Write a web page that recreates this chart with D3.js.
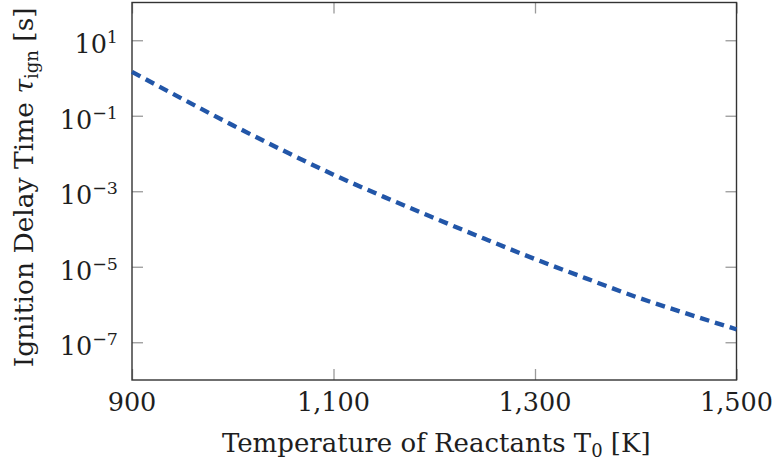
<!DOCTYPE html>
<html>
<head>
<meta charset="utf-8">
<script src="https://cdn.jsdelivr.net/npm/d3@7"></script>
<style>
  body { margin: 0; background: #fff; }
  text { font-family: "DejaVu Serif", serif; fill: #1e1e1e; }
</style>
</head>
<body>
<div id="plot"></div>
<script>
// temperature of reactants [K] and ignition delay time [s]
var temps = [900, 950, 1000, 1050, 1100, 1150, 1200, 1250, 1300, 1350, 1400, 1450, 1500];
var tauIgn = [1.45, 0.28, 0.056, 0.012, 2.75e-3, 7.1e-4, 1.95e-4, 5.5e-5, 1.6e-5, 5.0e-6, 1.6e-6, 5.8e-7, 2.2e-7];

var xTicks = [900, 1100, 1300, 1500];
var xTickLabels = ["900", "1,100", "1,300", "1,500"];
var yTicks = [1e1, 1e-1, 1e-3, 1e-5, 1e-7];
var yExponents = ["1", "\u22121", "\u22123", "\u22125", "\u22127"];

var W = 774, H = 467;
var margin = { top: 2.5, right: 37.5, bottom: 87, left: 132 };
var width = W - margin.left - margin.right,
    height = H - margin.top - margin.bottom;

var svg = d3.select("#plot").append("svg")
    .attr("width", W)
    .attr("height", H)
  .append("g")
    .attr("transform", "translate(" + margin.left + "," + margin.top + ")");

var x = d3.scaleLinear().domain([900, 1500]).range([0, width]);
var y = d3.scaleLog().domain([1e-8, 1e2]).range([height, 0]);

var tickLen = 11;

function styleAxis(g){
  g.select(".domain").remove();
  g.selectAll(".tick line").attr("stroke", "#9a9a9a").attr("stroke-width", 1.3);
  g.selectAll(".tick text").remove();
}

// bottom / top
svg.append("g")
    .attr("transform", "translate(0," + height + ")")
    .call(d3.axisBottom(x).tickValues(xTicks).tickSize(-tickLen).tickFormat(""))
    .call(styleAxis);
svg.append("g")
    .call(d3.axisTop(x).tickValues(xTicks).tickSize(-tickLen).tickFormat(""))
    .call(styleAxis);

// left / right
svg.append("g")
    .call(d3.axisLeft(y).tickValues(yTicks).tickSize(-tickLen).tickFormat(""))
    .call(styleAxis);
svg.append("g")
    .attr("transform", "translate(" + width + ",0)")
    .call(d3.axisRight(y).tickValues(yTicks).tickSize(-tickLen).tickFormat(""))
    .call(styleAxis);

// frame
svg.append("rect")
    .attr("x", 0).attr("y", 0)
    .attr("width", width).attr("height", height)
    .attr("fill", "none")
    .attr("stroke", "#333")
    .attr("stroke-width", 1.4);

// x tick labels
svg.selectAll(".xlab")
    .data(xTicks)
  .enter().append("text")
    .attr("class", "xlab")
    .attr("x", function(d){ return x(d); })
    .attr("y", height + 30.5)
    .attr("text-anchor", "middle")
    .style("font-size", "25.5px")
    .text(function(d, i){ return xTickLabels[i]; });

// y tick labels: 10^n
var ylab = svg.selectAll(".ylab")
    .data(yTicks)
  .enter().append("text")
    .attr("class", "ylab")
    .attr("x", -14)
    .attr("y", function(d){ return y(d) + 13; })
    .attr("text-anchor", "end")
    .style("font-size", "25.5px");
ylab.append("tspan").text("10");
ylab.append("tspan")
    .attr("dy", -10)
    .style("font-size", "17.5px")
    .text(function(d, i){ return yExponents[i]; });

// axis titles
var xt = svg.append("text")
    .attr("x", width / 2 + 2)
    .attr("y", height + 72)
    .attr("text-anchor", "middle")
    .style("font-size", "26px");
xt.append("tspan").text("Temperature of Reactants T");
xt.append("tspan").attr("dy", 5).style("font-size", "18px").text("0");
xt.append("tspan").attr("dy", -5).text(" [K]");

var yt = svg.append("text")
    .attr("transform", "translate(" + (-99) + "," + (height / 2 - 4) + ") rotate(-90)")
    .attr("text-anchor", "middle")
    .style("font-size", "26.5px");
yt.append("tspan").text("Ignition Delay Time ");
yt.append("tspan").style("font-style", "italic").text("\u03c4");
yt.append("tspan").attr("dy", 5).style("font-size", "18px").text("ign");
yt.append("tspan").attr("dy", -5).text(" [s]");

// curve
var line = d3.line()
    .x(function(d, i){ return x(temps[i]); })
    .y(function(d){ return y(d); })
    .curve(d3.curveMonotoneX);

svg.append("path")
    .datum(tauIgn)
    .attr("d", line)
    .attr("fill", "none")
    .attr("stroke", "#2256a8")
    .attr("stroke-width", 4.4)
    .attr("stroke-dasharray", "9.5,6");
</script>
</body>
</html>
